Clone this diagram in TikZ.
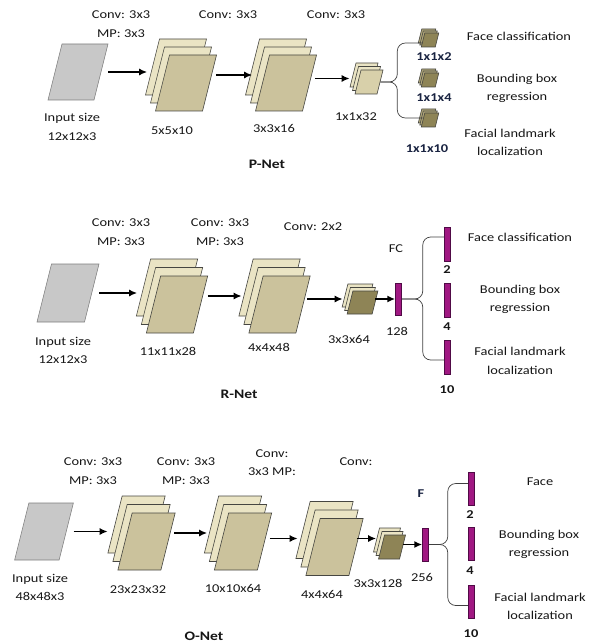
\documentclass[tikz,border=0pt]{standalone}
\usepackage{fontspec}
\setmainfont[FakeStretch=1.2]{Carlito}
\usetikzlibrary{arrows.meta}

\definecolor{ink}{RGB}{22,22,22}
\definecolor{navy}{RGB}{25,35,65}
\definecolor{inputfill}{RGB}{200,200,200}
\definecolor{inputedge}{RGB}{125,125,125}
\definecolor{mapedge}{RGB}{70,70,65}
\definecolor{mapback}{RGB}{234,228,196}
\definecolor{mapfront}{RGB}{203,194,156}
\definecolor{mapsand}{RGB}{216,208,170}
\definecolor{mapdark}{RGB}{142,132,86}
\definecolor{mapkhaki}{RGB}{178,168,122}
\definecolor{fcfill}{RGB}{160,24,130}
\definecolor{fcedge}{RGB}{80,10,70}

\begin{document}
\begin{tikzpicture}[
  x=1pt, y=-1pt,
  lbl/.style={font=\fontsize{12}{18.5}\selectfont, text=ink, align=center, inner sep=0pt},
  dims/.style={lbl, font=\fontsize{12}{18.5}\selectfont\bfseries},
  net/.style={font=\fontsize{13}{15}\selectfont\bfseries, text=ink, inner sep=0pt},
  map/.style 2 args={draw=mapedge, line width=0.6pt, inner sep=0pt, xslant=0.25,
    minimum width=#1, minimum height=#2},
  inmap/.style 2 args={map={#1}{#2}, draw=inputedge, fill=inputfill},
  fc/.style={draw=fcedge, fill=fcfill, line width=0.5pt, inner sep=0pt,
    minimum width=6pt, minimum height=#1},
  arrow/.style={-{Latex[length=8pt,width=7pt]}, line width=1.9pt, black},
  brace/.style={draw=black!75, line width=0.7pt, rounded corners=8pt},
]
\useasboundingbox (0,0) rectangle (592,644);

% ---------------- P-Net ----------------
\node[lbl] (pc1) at (121,24) {Conv: 3x3\\MP: 3x3};
\node[lbl] (pc2) at (228,15) {Conv: 3x3};
\node[lbl] (pc3) at (336,15) {Conv: 3x3};

\node[inmap={46pt}{56pt}] (pin) at (78,72) {};
\node[lbl] (pinl) at (72,127) {Input size\\12x12x3};

% stacked feature maps: back, middle, front
\foreach \m/\x in {p1/186, p2/286} {
  \node[map={47pt}{56pt}, fill=mapback] (\m-b) at (\x-10,67) {};
  \node[map={47pt}{56pt}, fill=mapback] (\m-m) at (\x-5,75) {};
  \node[map={47pt}{56pt}, fill=mapfront] (\m) at (\x,83) {};
}
\node[map={22pt}{24pt}, fill=mapback] (p3-b) at (364,75) {};
\node[map={22pt}{24pt}, fill=mapback] (p3-m) at (366.5,78.5) {};
\node[map={22pt}{24pt}, fill=mapsand] (p3) at (369,82) {};

% output maps
\foreach \o/\y in {po1/40, po2/80, po3/120} {
  \node[map={14pt}{14pt}, fill=mapkhaki] (\o-b) at (427,\y-4) {};
  \node[map={14pt}{14pt}, fill=mapkhaki] (\o-m) at (428.5,\y-2) {};
  \node[map={14pt}{14pt}, fill=mapdark] (\o) at (430,\y) {};
}

\node[lbl] (p1l) at (172,131) {5x5x10};
\node[lbl] (p2l) at (274,128) {3x3x16};
\node[lbl] (p3l) at (356,117) {1x1x32};
\node[dims, text=navy] (po1l) at (434,57) {1x1x2};
\node[dims, text=navy] (po2l) at (434,98) {1x1x4};
\node[dims, text=navy] (po3l) at (427,149) {1x1x10};
\node[net] (ptitle) at (267,164) {P-Net};

\node[lbl] (pt1) at (519,36) {Face classification};
\node[lbl] (pt2) at (517,88.5) {Bounding box\\regression};
\node[lbl] (pt3) at (510,142.5) {Facial landmark\\localization};

\draw[arrow] ([xshift=7pt]pin.east) -- ([xshift=-5pt]p1-b.west |- pin.east);
\draw[arrow] ([xshift=6pt]p1.east |- p1-m) -- (p2-b.west |- p1-m);
\draw[arrow] ([xshift=5pt]p2.east |- p3-m) -- ([xshift=-3pt]p3-b.west |- p3-m);
\draw[brace] (p3.east) -- ++(17,0) |- ([yshift=-3pt]po1.west);
\draw[brace] (p3.east) -- ++(17,0) |- ([yshift=2pt]po3.west);

% ---------------- R-Net ----------------
\node[lbl] (rc1) at (121,232) {Conv: 3x3\\MP: 3x3};
\node[lbl] (rc2) at (220,232) {Conv: 3x3\\MP: 3x3};
\node[lbl] (rc3) at (313,227) {Conv: 2x2};
\node[lbl] (rfcl) at (396,249) {FC};

\node[inmap={47.5pt}{58pt}] (rin) at (68,293) {};
\node[lbl] (rinl) at (63,350.5) {Input size\\12x12x3};

\foreach \m/\x in {r1/177, r2/279.5} {
  \node[map={47pt}{57pt}, fill=mapback] (\m-b) at (\x-10,287.5) {};
  \node[map={47pt}{57pt}, fill=mapback] (\m-m) at (\x-5,296) {};
  \node[map={47pt}{57pt}, fill=mapfront] (\m) at (\x,304.5) {};
}
\node[map={25pt}{23pt}, fill=mapback] (r3-b) at (357.5,295.5) {};
\node[map={25pt}{23pt}, fill=mapback] (r3-m) at (360,299) {};
\node[map={25pt}{23pt}, fill=mapdark] (r3) at (362.5,302.5) {};

\node[fc=32pt] (rfc) at (398.5,299) {};
\node[fc=34pt] (ro1) at (447.5,244) {};
\node[fc=34pt] (ro2) at (447.5,300) {};
\node[fc=34pt] (ro3) at (447.5,357) {};

\node[lbl] (r1l) at (168,351) {11x11x28};
\node[lbl] (r2l) at (269,347) {4x4x48};
\node[lbl] (r3l) at (349,339) {3x3x64};
\node[lbl] (rfcn) at (397,331) {128};
\node[dims] (ro1l) at (447,270) {2};
\node[dims] (ro2l) at (447,327) {4};
\node[dims] (ro3l) at (447,390) {10};
\node[net] (rtitle) at (239,394) {R-Net};

\node[lbl] (rt1) at (520,237) {Face classification};
\node[lbl] (rt2) at (520,299.5) {Bounding box\\regression};
\node[lbl] (rt3) at (520,361) {Facial landmark\\localization};

\draw[arrow] ([xshift=7pt]rin.east) -- ([xshift=-6pt]r1-b.west |- rin.east);
\draw[arrow] ([xshift=7pt]r1.east |- r1-m) -- ([xshift=-4pt]r2-b.west |- r1-m);
\draw[arrow] ([xshift=4pt]r2.east |- r3-m) -- ([xshift=-2pt]r3-b.west |- r3-m);
\draw[arrow] (r3.east |- rfc) -- (rfc.west);
\draw[brace] (rfc.east) -- ++(21,0) |- ([yshift=7pt]ro1.west);
\draw[brace] (rfc.east) -- ++(21,0) |- ([yshift=-3pt]ro3.west);

% ---------------- O-Net ----------------
\node[lbl] (oc1) at (93,471) {Conv: 3x3\\MP: 3x3};
\node[lbl] (oc2) at (186,471) {Conv: 3x3\\MP: 3x3};
\node[lbl] (oc3) at (272,462.5) {Conv:\\3x3 MP:};
\node[lbl] (oc4) at (356,462) {Conv:};
\node[dims, text=navy] (ofcl) at (421,494) {F};

\node[inmap={44.5pt}{57pt}] (oin) at (44,531.5) {};
\node[lbl] (oinl) at (40,587.5) {Input size\\48x48x3};

\foreach \m/\x/\y in {o1/146.5/541.5, o2/243/541.5, o3/334.5/547} {
  \node[map={43pt}{57pt}, fill=mapback] (\m-b) at (\x-10,\y-17) {};
  \node[map={43pt}{57pt}, fill=mapback] (\m-m) at (\x-5,\y-8.5) {};
  \node[map={43pt}{57pt}, fill=mapfront] (\m) at (\x,\y) {};
}
\node[map={21pt}{24pt}, fill=mapback] (o4-b) at (387,540) {};
\node[map={21pt}{24pt}, fill=mapback] (o4-m) at (389.5,543.5) {};
\node[map={21pt}{24pt}, fill=mapdark] (o4) at (392,547) {};

\node[fc=33pt] (ofc) at (425.5,544.5) {};
\node[fc=33pt] (oo1) at (471,488.5) {};
\node[fc=33pt] (oo2) at (471,544) {};
\node[fc=33pt] (oo3) at (471,601.5) {};

\node[lbl] (o1l) at (138,590) {23x23x32};
\node[lbl] (o2l) at (233,588) {10x10x64};
\node[lbl] (o3l) at (322,594) {4x4x64};
\node[lbl] (o4l) at (378,583) {3x3x128};
\node[lbl] (ofcn) at (422,577) {256};
\node[dims] (oo1l) at (470,515) {2};
\node[dims] (oo2l) at (470,571) {4};
\node[dims] (oo3l) at (471,634) {10};
\node[net] (otitle) at (204,636) {O-Net};

\node[lbl] (ot1) at (540,482) {Face};
\node[lbl] (ot2) at (539,544.5) {Bounding box\\regression};
\node[lbl] (ot3) at (540,606.5) {Facial landmark\\localization};

\draw[arrow] ([xshift=7pt]oin.east) -- ([xshift=-7pt]o1-b.west |- oin.east);
\draw[arrow] ([xshift=6pt]o1.east |- o1-m) -- ([xshift=-4pt]o2-b.west |- o1-m);
\draw[arrow] ([xshift=5pt]o2.east |- o3-m) -- ([xshift=-5pt]o3-b.west |- o3-m);
\draw[arrow] ([xshift=1pt]o3.east |- o3-m) -- (o4-b.west |- o3-m);
\draw[arrow] (o4.east |- ofc) -- (ofc.west);
\draw[brace] (ofc.east) -- ++(19,0) |- ([yshift=5pt]oo1.west);
\draw[brace] (ofc.east) -- ++(19,0) |- ([yshift=-4pt]oo3.west);

\end{tikzpicture}
\end{document}
